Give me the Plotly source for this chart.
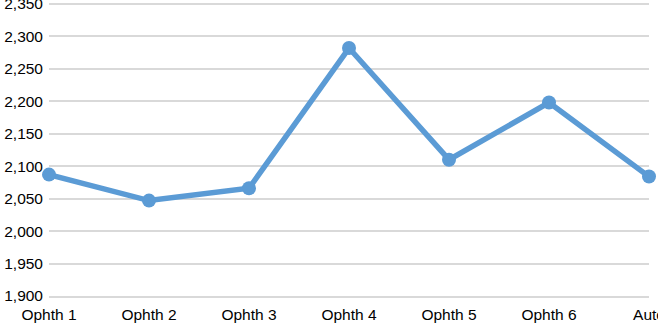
import plotly.graph_objects as go

categories = ["Ophth 1", "Ophth 2", "Ophth 3", "Ophth 4", "Ophth 5", "Ophth 6", "Auto"]
values = [2087, 2047, 2066, 2282, 2110, 2198, 2084]
y_ticks = [1900, 1950, 2000, 2050, 2100, 2150, 2200, 2250, 2300, 2350]

blue = "#5B9BD5"
grid = "#D9D9D9"
font = "Liberation Sans, Arial, sans-serif"

fig = go.Figure()
fig.add_trace(go.Scatter(
    x=categories, y=values, mode="lines+markers",
    line=dict(color=blue, width=5.5),
    marker=dict(color=blue, size=14),
    cliponaxis=False,
))

fig.update_layout(
    width=658, height=332,
    margin=dict(l=49, r=9, t=0, b=36, autoexpand=False),
    paper_bgcolor="white", plot_bgcolor="white",
    showlegend=False,
    font=dict(family=font, size=15.5, color="#000000"),
)
fig.update_xaxes(
    type="category", range=[0, 6], showgrid=False,
    showline=True, linecolor=grid, linewidth=1.5,
    ticks="", ticklabelstandoff=4, automargin=False,
    tickfont=dict(family=font, size=15.5, color="#000000"),
)
fig.update_yaxes(
    range=[1900, 2356], tickvals=y_ticks,
    ticktext=[f"{v:,}" for v in y_ticks],
    showgrid=True, gridcolor=grid, gridwidth=1.5,
    zeroline=False, showline=False, ticks="",
    ticklabelstandoff=5, automargin=False,
    ticklabeloverflow="allow",
    tickfont=dict(family=font, size=15.5, color="#000000"),
)

fig.write_html("out.html")
